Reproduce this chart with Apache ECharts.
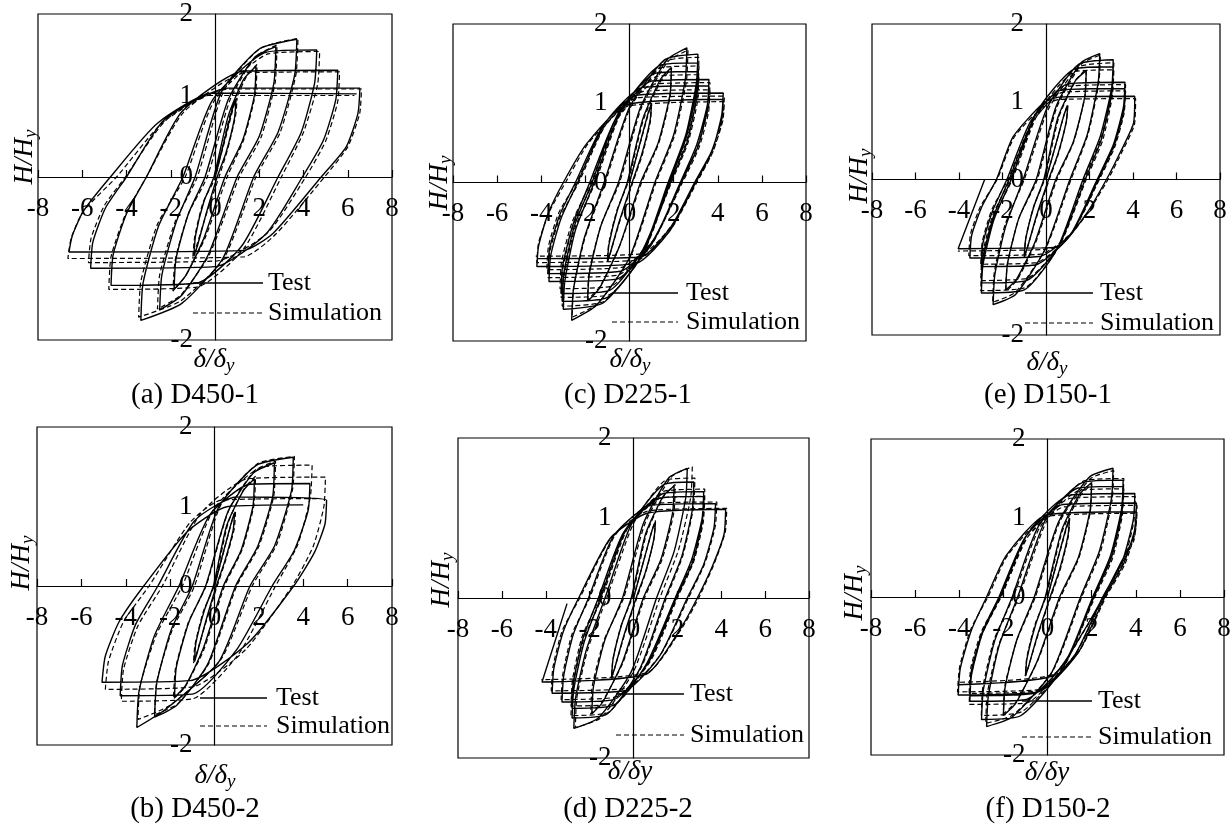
<!DOCTYPE html>
<html>
<head>
<meta charset="utf-8">
<script src="https://cdn.jsdelivr.net/npm/echarts@6.0.0/dist/echarts.min.js"></script>
<style>
html, body { margin: 0; padding: 0; background: #fff; }
#main { width: 1232px; height: 831px; }
</style>
</head>
<body>
<div id="main"></div>
<script>
// axis ranges (normalised displacement / force)
var xRange = [-8, 8], xStep = 2;
var yRange = [-2, 2], yStep = 1;

var captions = ['(a) D450-1', '(c) D225-1', '(e) D150-1', '(b) D450-2', '(d) D225-2', '(f) D150-2'];
var legendNames = ['Test', 'Simulation'];

// hysteresis paths, flat lists x0,y0,x1,y1,...
// one line per half cycle (loading branch / unloading branch)
var testA = [
  0,0, 0.5,0.53, 0.8,0.85, 0.95,0.95,
  0.88,0.72, 0.5,0.3, 0.1,0, -0.4,-0.45, -0.8,-0.85, -0.95,-0.97,
  -0.88,-0.72, -0.5,-0.3, -0.05,0, 0.6,0.75, 1.3,1.2, 1.85,1.36,
  1.78,1.0, 1.25,0.45, 0.45,0, -0.5,-0.75, -1.3,-1.2, -1.85,-1.38,
  -1.76,-1.0, -1.2,-0.45, -0.45,0, 0.6,0.95, 1.8,1.47, 2.75,1.6,
  2.66,1.15, 2.0,0.5, 1.0,0, -0.3,-0.95, -1.5,-1.45, -2.5,-1.63,
  -2.4,-1.2, -1.75,-0.55, -0.9,0, 0.3,1.05, 2.0,1.57, 3.7,1.69,
  3.6,1.25, 2.85,0.55, 1.75,0, 0.35,-1.0, -1.5,-1.55, -3.35,-1.76,
  -3.25,-1.3, -2.55,-0.6, -1.45,0, -0.1,0.95, 2.3,1.53, 4.6,1.56,
  4.5,1.15, 3.9,0.55, 2.85,0, 1.2,-0.85, -0.8,-1.3, -4.7,-1.33,
  -4.6,-0.95, -4.0,-0.45, -3.1,0, -1.5,0.8, 1.3,1.3, 5.55,1.31,
  5.46,0.95, 4.9,0.45, 3.95,0, 2.3,-0.7, 0.0,-1.1, -5.62,-1.12,
  -5.52,-0.8, -4.95,-0.38, -4.0,0, -2.3,0.7, 0.6,1.09, 6.55,1.09,
  6.46,0.78, 5.93,0.37, 4.8,0, 2.63,-0.69, 1.3,-0.9, -6.6,-0.92,
  -6.45,-0.72, -5.95,-0.42, -4.73,0, -2.6,0.66, -0.1,1.03, 6.4,1.02
];
var simA = [
  0,0, 0.5,0.5, 0.85,0.87, 1.0,0.97,
  0.93,0.75, 0.55,0.32, 0.18,0, -0.35,-0.42, -0.85,-0.86, -1.0,-0.98,
  -0.92,-0.74, -0.55,-0.32, 0.02,0, 0.7,0.78, 1.4,1.22, 1.9,1.38,
  1.83,1.02, 1.3,0.46, 0.55,0, -0.45,-0.75, -1.35,-1.22, -1.9,-1.4,
  -1.8,-1.02, -1.2,-0.45, -0.35,0, 0.7,0.96, 1.85,1.48, 2.8,1.62,
  2.72,1.16, 2.1,0.5, 1.1,0, -0.25,-0.95, -1.55,-1.45, -2.6,-1.62,
  -2.5,-1.2, -1.8,-0.55, -0.8,0, 0.4,1.06, 2.05,1.58, 3.75,1.7,
  3.66,1.26, 2.95,0.55, 1.85,0, 0.4,-1.0, -1.55,-1.52, -3.45,-1.72,
  -3.35,-1.28, -2.6,-0.58, -1.35,0, 0.0,0.95, 2.4,1.51, 4.73,1.54,
  4.64,1.14, 4.0,0.55, 3.0,0, 1.3,-0.88, -0.8,-1.35, -4.8,-1.38,
  -4.7,-0.98, -4.05,-0.46, -3.1,0, -1.4,0.8, 1.4,1.28, 5.63,1.29,
  5.55,0.93, 5.0,0.44, 4.1,0, 2.4,-0.68, 0.1,-1.03, -5.72,-1.05,
  -5.6,-0.75, -5.0,-0.35, -4.05,0, -2.2,0.7, 0.6,1.08, 6.62,1.08,
  6.54,0.78, 6.0,0.37, 4.95,0, 2.75,-0.7, 1.3,-0.98, -6.65,-1.0,
  -6.5,-0.75, -5.95,-0.42, -4.45,0, -2.4,0.66, -0.3,1.0, 6.3,1.0
];
var testB = [
  0,0, 0.45,0.48, 0.78,0.82, 0.9,0.92,
  0.84,0.7, 0.45,0.3, 0.08,0, -0.4,-0.45, -0.78,-0.84, -0.9,-0.95,
  -0.84,-0.72, -0.45,-0.3, -0.05,0, 0.55,0.76, 1.3,1.2, 1.8,1.35,
  1.73,1.0, 1.2,0.45, 0.4,0, -0.5,-0.78, -1.3,-1.25, -1.8,-1.4,
  -1.72,-1.02, -1.15,-0.45, -0.4,0, 0.6,0.93, 1.75,1.42, 2.7,1.55,
  2.62,1.12, 1.95,0.5, 0.95,0, -0.3,-0.98, -1.7,-1.5, -2.7,-1.65,
  -2.6,-1.22, -1.95,-0.55, -1.0,0, 0.2,1.0, 1.9,1.52, 3.55,1.62,
  3.47,1.2, 2.7,0.5, 1.6,0, 0.2,-0.95, -2.2,-1.55, -3.5,-1.78,
  -3.4,-1.32, -2.7,-0.62, -1.6,0, -0.2,0.9, 1.6,1.28, 4.3,1.29,
  4.22,0.95, 3.6,0.45, 2.6,0, 1.0,-0.8, -1.0,-1.36, -4.25,-1.38,
  -4.15,-1.0, -3.55,-0.48, -2.55,0, -0.9,0.82, 1.0,1.12, 5.05,1.08,
  4.98,0.78, 4.5,0.42, 3.57,0, 1.5,-0.72, -1.1,-1.19, -5.07,-1.21,
  -4.92,-0.88, -4.3,-0.45, -3.19,0, -1.24,0.68, 0.6,1.0, 4.0,1.02
];
var simB = [
  0,0, 0.48,0.5, 0.82,0.85, 0.95,0.95,
  0.89,0.72, 0.5,0.32, 0.12,0, -0.38,-0.45, -0.82,-0.86, -0.95,-0.97,
  -0.88,-0.74, -0.5,-0.32, -0.02,0, 0.62,0.8, 1.35,1.23, 1.85,1.38,
  1.78,1.02, 1.25,0.46, 0.45,0, -0.48,-0.8, -1.33,-1.27, -1.85,-1.42,
  -1.76,-1.04, -1.18,-0.46, -0.38,0, 0.65,0.96, 1.8,1.45, 2.75,1.57,
  2.67,1.13, 2.0,0.5, 1.0,0, -0.25,-0.97, -1.65,-1.48, -2.7,-1.62,
  -2.6,-1.2, -1.9,-0.55, -0.9,0, 0.3,1.03, 1.95,1.54, 3.6,1.63,
  3.52,1.22, 2.8,0.52, 1.7,0, 0.3,-0.92, -2.0,-1.5, -3.45,-1.68,
  -3.35,-1.25, -2.6,-0.6, -1.45,0, 0.0,0.98, 2.2,1.5, 4.4,1.52,
  4.32,1.12, 3.75,0.52, 2.75,0, 1.1,-0.85, -1.0,-1.42, -4.2,-1.45,
  -4.1,-1.05, -3.45,-0.5, -2.35,0, -0.6,0.92, 1.5,1.35, 5.0,1.37,
  4.93,1.0, 4.45,0.5, 3.5,0, 1.4,-0.8, -1.0,-1.27, -4.92,-1.3,
  -4.78,-0.95, -4.1,-0.45, -2.95,0, -1.1,0.8, 0.3,1.08, 4.77,1.1
];
var testC = [
  0,0, 0.5,0.52, 0.85,0.88, 1.0,1.0,
  0.93,0.78, 0.55,0.35, 0.12,0, -0.45,-0.48, -0.85,-0.87, -1.0,-1.0,
  -0.93,-0.78, -0.55,-0.35, -0.1,0, 0.6,0.8, 1.4,1.3, 1.9,1.45,
  1.83,1.1, 1.3,0.5, 0.5,0, -0.45,-0.8, -1.35,-1.33, -1.9,-1.5,
  -1.82,-1.15, -1.3,-0.55, -0.5,0, 0.5,0.95, 1.7,1.55, 2.6,1.7,
  2.53,1.3, 2.0,0.6, 1.15,0, 0.0,-0.95, -1.5,-1.55, -2.62,-1.74,
  -2.54,-1.35, -2.05,-0.7, -1.15,0, 0.0,0.95, 1.6,1.55, 3.1,1.62,
  3.03,1.25, 2.55,0.6, 1.75,0, 0.5,-0.95, -1.2,-1.52, -3.0,-1.6,
  -2.93,-1.24, -2.45,-0.6, -1.6,0, -0.4,0.9, 1.4,1.48, 3.1,1.51,
  3.03,1.15, 2.55,0.55, 1.8,0, 0.6,-0.9, -1.0,-1.45, -3.05,-1.5,
  -2.98,-1.15, -2.5,-0.55, -1.7,0, -0.5,0.88, 1.2,1.38, 3.1,1.4,
  3.03,1.05, 2.6,0.5, 1.85,0, 0.6,-0.85, -0.9,-1.36, -3.1,-1.4,
  -3.03,-1.05, -2.55,-0.52, -1.8,0, -0.6,0.82, 1.0,1.28, 3.6,1.3,
  3.53,0.98, 3.05,0.48, 2.3,0, 1.0,-0.78, -0.6,-1.22, -3.65,-1.25,
  -3.57,-0.92, -3.1,-0.45, -2.35,0, -1.1,0.75, 0.6,1.2, 3.6,1.22,
  3.53,0.92, 3.1,0.45, 2.35,0, 1.05,-0.74, -0.4,-1.12, -3.7,-1.15,
  -3.62,-0.83, -3.15,-0.4, -2.45,0, -1.2,0.72, 0.3,1.1, 4.25,1.13,
  4.18,0.85, 3.75,0.4, 3.0,0, 1.8,-0.62, 0.3,-1.02, -4.2,-1.06,
  -4.12,-0.8, -3.7,-0.4, -3.0,0, -1.94,0.49, -0.15,0.98, 4.25,1.05,
  4.18,0.8, 3.7,0.38, 2.95,0, 1.9,-0.55, 0.5,-0.94, -4.21,-0.96
];
var simC = [
  0,0, 0.5,0.51, 0.86,0.87, 1.0,0.98,
  0.94,0.76, 0.58,0.35, 0.15,0, -0.42,-0.47, -0.85,-0.87, -1.0,-1.0,
  -0.94,-0.77, -0.57,-0.35, -0.07,0, 0.64,0.8, 1.42,1.28, 1.9,1.43,
  1.84,1.08, 1.33,0.5, 0.55,0, -0.42,-0.78, -1.33,-1.31, -1.9,-1.48,
  -1.83,-1.13, -1.28,-0.53, -0.45,0, 0.55,0.95, 1.75,1.53, 2.65,1.67,
  2.58,1.28, 2.05,0.6, 1.2,0, 0.05,-0.93, -1.45,-1.53, -2.6,-1.7,
  -2.53,-1.32, -2.0,-0.68, -1.1,0, 0.05,0.95, 1.65,1.53, 3.15,1.58,
  3.08,1.22, 2.6,0.6, 1.8,0, 0.55,-0.93, -1.15,-1.5, -3.05,-1.56,
  -2.98,-1.2, -2.48,-0.58, -1.55,0, -0.35,0.9, 1.45,1.45, 3.15,1.47,
  3.08,1.12, 2.6,0.54, 1.85,0, 0.65,-0.88, -0.95,-1.42, -3.1,-1.45,
  -3.03,-1.1, -2.55,-0.54, -1.65,0, -0.45,0.86, 1.25,1.34, 3.15,1.36,
  3.08,1.02, 2.65,0.5, 1.9,0, 0.65,-0.83, -0.85,-1.31, -3.15,-1.34,
  -3.08,-1.0, -2.6,-0.5, -1.75,0, -0.55,0.8, 1.05,1.24, 3.65,1.26,
  3.58,0.95, 3.1,0.47, 2.35,0, 1.05,-0.76, -0.55,-1.17, -3.7,-1.2,
  -3.62,-0.88, -3.15,-0.44, -2.3,0, -1.05,0.74, 0.65,1.15, 3.65,1.17,
  3.58,0.88, 3.15,0.44, 2.4,0, 1.1,-0.72, -0.35,-1.07, -3.75,-1.1,
  -3.67,-0.8, -3.2,-0.38, -2.4,0, -1.15,0.7, 0.35,1.07, 4.3,1.09,
  4.23,0.82, 3.8,0.4, 3.05,0, 1.85,-0.6, 0.35,-0.98, -4.2,-1.01,
  -4.12,-0.76, -3.65,-0.38, -2.9,0, -1.85,0.5, -0.1,0.96, 4.3,1.02,
  4.23,0.78, 3.75,0.37, 3.0,0, 1.95,-0.53, 0.55,-0.9, -4.25,-0.93
];
var testD = [
  0,0, 0.5,0.5, 0.85,0.85, 1.0,0.95,
  0.93,0.74, 0.55,0.33, 0.12,0, -0.45,-0.48, -0.85,-0.87, -1.0,-1.0,
  -0.93,-0.76, -0.55,-0.34, -0.1,0, 0.55,0.8, 1.35,1.27, 1.85,1.4,
  1.78,1.06, 1.25,0.48, 0.45,0, -0.5,-0.8, -1.4,-1.3, -1.9,-1.45,
  -1.82,-1.1, -1.3,-0.52, -0.5,0, 0.45,0.93, 1.6,1.5, 2.45,1.62,
  2.38,1.25, 1.85,0.58, 1.05,0, -0.1,-0.92, -1.6,-1.5, -2.72,-1.63,
  -2.64,-1.25, -2.15,-0.65, -1.3,0, -0.1,0.92, 1.4,1.42, 2.75,1.45,
  2.68,1.1, 2.2,0.52, 1.45,0, 0.3,-0.88, -1.2,-1.45, -2.8,-1.5,
  -2.72,-1.14, -2.25,-0.55, -1.5,0, -0.3,0.88, 1.4,1.31, 3.2,1.33,
  3.13,1.0, 2.65,0.48, 1.9,0, 0.6,-0.82, -0.9,-1.34, -2.8,-1.38,
  -2.73,-1.04, -2.3,-0.5, -1.6,0, -0.45,0.82, 1.2,1.25, 3.2,1.27,
  3.13,0.95, 2.7,0.45, 1.95,0, 0.7,-0.8, -0.9,-1.27, -3.26,-1.3,
  -3.18,-0.97, -2.75,-0.46, -2.05,0, -0.9,0.78, 0.8,1.16, 3.74,1.18,
  3.67,0.88, 3.2,0.42, 2.45,0, 1.2,-0.72, -0.4,-1.16, -3.71,-1.19,
  -3.63,-0.88, -3.2,-0.42, -2.5,0, -1.05,0.75, 0.62,1.06, 4.2,1.11,
  4.13,0.8, 3.6,0.4, 2.91,0, 2.15,-0.38, 0.6,-0.95, -4.17,-1.05,
  -3.03,-0.07
];
var simD = [
  0,0, 0.5,0.5, 0.86,0.86, 1.0,0.97,
  0.94,0.75, 0.58,0.34, 0.15,0, -0.42,-0.47, -0.85,-0.87, -1.0,-1.0,
  -0.94,-0.77, -0.57,-0.35, -0.07,0, 0.6,0.81, 1.4,1.28, 1.9,1.42,
  1.84,1.07, 1.3,0.48, 0.5,0, -0.47,-0.8, -1.43,-1.3, -1.95,-1.45,
  -1.88,-1.1, -1.33,-0.52, -0.45,0, 0.55,0.95, 1.75,1.52, 2.68,1.64,
  2.61,1.26, 2.05,0.6, 1.2,0, 0.0,-0.92, -1.5,-1.5, -2.65,-1.62,
  -2.58,-1.24, -2.08,-0.64, -1.22,0, 0.0,0.93, 1.45,1.47, 2.8,1.5,
  2.73,1.13, 2.25,0.53, 1.5,0, 0.35,-0.87, -1.15,-1.43, -2.85,-1.47,
  -2.78,-1.12, -2.3,-0.54, -1.45,0, -0.25,0.88, 1.45,1.34, 3.25,1.36,
  3.18,1.02, 2.7,0.49, 1.95,0, 0.65,-0.82, -0.85,-1.32, -2.85,-1.35,
  -2.78,-1.02, -2.35,-0.49, -1.55,0, -0.4,0.82, 1.25,1.25, 3.25,1.27,
  3.18,0.95, 2.75,0.46, 2.0,0, 0.75,-0.8, -0.85,-1.24, -3.3,-1.27,
  -3.22,-0.95, -2.8,-0.45, -2.0,0, -0.85,0.78, 0.85,1.18, 3.8,1.2,
  3.73,0.9, 3.25,0.43, 2.5,0, 1.25,-0.7, -0.35,-1.13, -3.75,-1.16,
  -3.67,-0.86, -3.25,-0.41, -2.45,0, -1.0,0.76, 0.7,1.09, 4.25,1.12,
  4.18,0.82, 3.65,0.41, 2.97,0, 2.2,-0.38, 0.65,-0.93, -4.2,-1.02
];
var testE = [
  0,0, 0.5,0.5, 0.85,0.85, 1.0,0.95,
  0.93,0.74, 0.55,0.33, 0.12,0, -0.45,-0.48, -0.85,-0.87, -1.0,-1.0,
  -0.93,-0.76, -0.55,-0.34, -0.1,0, 0.55,0.8, 1.35,1.27, 1.85,1.4,
  1.78,1.06, 1.25,0.48, 0.45,0, -0.5,-0.8, -1.35,-1.28, -1.85,-1.42,
  -1.77,-1.08, -1.25,-0.5, -0.45,0, 0.45,0.93, 1.6,1.5, 2.47,1.62,
  2.4,1.25, 1.9,0.58, 1.1,0, -0.05,-0.9, -1.4,-1.48, -2.43,-1.61,
  -2.35,-1.22, -1.85,-0.6, -1.05,0, 0.05,0.92, 1.5,1.48, 3.09,1.54,
  3.02,1.18, 2.5,0.56, 1.7,0, 0.5,-0.9, -1.0,-1.42, -2.97,-1.46,
  -2.9,-1.1, -2.4,-0.52, -1.6,0, -0.4,0.88, 1.3,1.42, 3.09,1.45,
  3.02,1.1, 2.55,0.52, 1.8,0, 0.6,-0.85, -0.9,-1.3, -2.97,-1.33,
  -2.9,-1.0, -2.42,-0.48, -1.7,0, -0.5,0.82, 1.0,1.23, 3.63,1.25,
  3.56,0.93, 3.1,0.45, 2.35,0, 1.1,-0.72, -0.5,-1.1, -2.97,-1.12,
  -2.9,-0.82, -2.45,-0.4, -1.8,0, -0.7,0.75, 0.7,1.15, 3.63,1.17,
  3.56,0.87, 3.1,0.42, 2.4,0, 1.2,-0.68, -0.3,-0.99, -3.5,-1.01,
  -3.42,-0.72, -2.95,-0.35, -2.28,0, -1.51,0.55, -0.13,0.98, 0.6,1.06, 4.08,1.07,
  4.02,0.72, 3.4,0.34, 2.78,0, 1.86,-0.44, 0.63,-0.86, -0.2,-0.88, -4.04,-0.89,
  -2.82,0
];
var simE = [
  0,0, 0.5,0.5, 0.86,0.86, 1.0,0.97,
  0.94,0.75, 0.58,0.34, 0.15,0, -0.42,-0.47, -0.85,-0.87, -1.0,-1.0,
  -0.94,-0.77, -0.57,-0.35, -0.07,0, 0.6,0.81, 1.38,1.28, 1.85,1.42,
  1.79,1.07, 1.28,0.49, 0.5,0, -0.46,-0.8, -1.32,-1.29, -1.85,-1.44,
  -1.78,-1.1, -1.25,-0.5, -0.4,0, 0.5,0.93, 1.65,1.49, 2.5,1.6,
  2.43,1.24, 1.93,0.58, 1.15,0, 0.0,-0.88, -1.4,-1.45, -2.45,-1.58,
  -2.38,-1.2, -1.88,-0.58, -1.0,0, 0.1,0.9, 1.55,1.45, 3.12,1.5,
  3.05,1.15, 2.55,0.55, 1.75,0, 0.55,-0.88, -0.95,-1.39, -3.0,-1.43,
  -2.93,-1.08, -2.42,-0.5, -1.55,0, -0.35,0.86, 1.35,1.39, 3.12,1.41,
  3.05,1.07, 2.6,0.5, 1.85,0, 0.65,-0.83, -0.85,-1.27, -3.0,-1.3,
  -2.93,-0.97, -2.45,-0.46, -1.65,0, -0.45,0.8, 1.05,1.2, 3.66,1.22,
  3.59,0.9, 3.15,0.44, 2.4,0, 1.15,-0.7, -0.45,-1.07, -3.0,-1.09,
  -2.93,-0.8, -2.48,-0.38, -1.75,0, -0.65,0.73, 0.75,1.12, 3.66,1.14,
  3.59,0.85, 3.15,0.41, 2.45,0, 1.25,-0.66, -0.25,-0.96, -3.55,-0.98,
  -3.47,-0.7, -3.0,-0.34, -2.25,0, -1.45,0.55, -0.05,0.96, 0.65,1.03, 4.12,1.04,
  4.06,0.7, 3.45,0.33, 2.85,0, 1.92,-0.43, 0.7,-0.84, -0.15,-0.9, -4.05,-0.92
];
var testF = [
  0,0, 0.5,0.52, 0.85,0.88, 1.0,1.0,
  0.93,0.78, 0.55,0.35, 0.12,0, -0.45,-0.48, -0.85,-0.87, -1.0,-1.0,
  -0.93,-0.78, -0.55,-0.36, -0.1,0, 0.65,0.85, 1.45,1.3, 2.0,1.45,
  1.93,1.1, 1.4,0.5, 0.55,0, -0.45,-0.8, -1.45,-1.35, -2.0,-1.5,
  -1.92,-1.14, -1.4,-0.55, -0.6,0, 0.5,0.95, 1.9,1.52, 2.97,1.63,
  2.9,1.25, 2.35,0.58, 1.5,0, 0.2,-0.95, -1.6,-1.52, -2.76,-1.64,
  -2.68,-1.25, -2.2,-0.62, -1.35,0, -0.05,1.0, 1.6,1.45, 3.43,1.48,
  3.36,1.12, 2.85,0.52, 2.05,0, 0.7,-0.9, -1.2,-1.5, -2.99,-1.55,
  -2.91,-1.18, -2.4,-0.56, -1.6,0, -0.4,0.9, 1.4,1.38, 3.43,1.4,
  3.36,1.05, 2.9,0.5, 2.1,0, 0.8,-0.82, -1.0,-1.3, -3.52,-1.32,
  -3.44,-0.98, -2.95,-0.46, -2.15,0, -0.9,0.8, 1.0,1.29, 3.96,1.31,
  3.89,0.98, 3.4,0.46, 2.5,0, 1.2,-0.75, -0.6,-1.22, -3.52,-1.25,
  -3.44,-0.92, -2.95,-0.44, -2.2,0, -1.0,0.76, 0.7,1.17, 4.03,1.19,
  3.96,0.86, 3.45,0.42, 2.6,0, 1.4,-0.7, -0.4,-1.2, -4.05,-1.24,
  -3.95,-0.9, -3.45,-0.42, -2.76,0, -1.86,0.53, -0.05,1.04, 4.03,1.08,
  3.88,0.74, 3.28,0.41, 2.52,0, 1.62,-0.44, 0.2,-1.0, -4.05,-1.11
];
var simF = [
  0,0, 0.5,0.51, 0.86,0.87, 1.0,0.98,
  0.94,0.76, 0.58,0.35, 0.15,0, -0.42,-0.47, -0.85,-0.87, -1.0,-1.0,
  -0.94,-0.77, -0.57,-0.35, -0.07,0, 0.68,0.84, 1.48,1.28, 2.0,1.43,
  1.94,1.08, 1.43,0.5, 0.6,0, -0.42,-0.79, -1.43,-1.33, -2.0,-1.48,
  -1.93,-1.12, -1.38,-0.54, -0.55,0, 0.55,0.95, 1.95,1.5, 3.0,1.6,
  2.93,1.23, 2.4,0.57, 1.55,0, 0.25,-0.93, -1.55,-1.49, -2.8,-1.6,
  -2.73,-1.22, -2.2,-0.6, -1.3,0, 0.0,0.98, 1.65,1.47, 3.46,1.5,
  3.39,1.14, 2.9,0.53, 2.1,0, 0.75,-0.88, -1.15,-1.45, -3.0,-1.5,
  -2.93,-1.14, -2.42,-0.54, -1.55,0, -0.35,0.88, 1.45,1.35, 3.46,1.37,
  3.39,1.03, 2.95,0.49, 2.15,0, 0.85,-0.82, -0.95,-1.34, -3.55,-1.36,
  -3.48,-1.02, -2.98,-0.48, -2.1,0, -0.85,0.78, 1.05,1.25, 3.98,1.27,
  3.91,0.95, 3.45,0.45, 2.55,0, 1.25,-0.73, -0.55,-1.19, -3.55,-1.22,
  -3.48,-0.9, -2.98,-0.43, -2.15,0, -0.95,0.74, 0.75,1.14, 4.06,1.16,
  3.99,0.84, 3.5,0.41, 2.65,0, 1.45,-0.68, -0.35,-1.17, -4.08,-1.2,
  -3.98,-0.88, -3.48,-0.41, -2.7,0, -1.8,0.53, 0.0,1.02, 4.06,1.06,
  3.92,0.72, 3.32,0.4, 2.57,0, 1.66,-0.43, 0.25,-0.98, -4.08,-1.08
];

// panel order: top row a, c, e; bottom row b, d, f
var testSets = [testA, testC, testE, testB, testD, testF];
var simSets = [simA, simC, simE, simB, simD, simF];

// layout (pixels)
var boxes = [[38,14,354,326],[453,24,353,317],[872,24,348,311],[37,427,355,318],[458,438,351,320],[871,439,353,316]];
var hPos = [[25,157],[440,183],[860,176],[22,563],[442,580],[855,593]];
var dPos = [[214,360],[630,360],[1047,363],[215,776],[630,772],[1047,773]];
var dSub = [true, true, true, true, false, false];
var capPos = [[195,395],[628,395],[1048,395],[195,809],[628,809],[1048,809]];
var legPos = [
  {x1:193, x2:263, yT:283, yS:313, tx:268},
  {x1:612, x2:678, yT:293, yS:322, tx:686},
  {x1:1025, x2:1093, yT:293, yS:323, tx:1100},
  {x1:200, x2:267, yT:698, yS:726, tx:276},
  {x1:616, x2:684, yT:694, yS:735, tx:690},
  {x1:1022, x2:1092, yT:701, yS:737, tx:1098}
];

var FONT = '"Liberation Serif", "Times New Roman", serif';

function pairs(a) {
  var out = [];
  for (var i = 0; i < a.length; i += 2) out.push([a[i], a[i + 1]]);
  return out;
}

var grids = [], xAxes = [], yAxes = [], series = [], graphics = [];

boxes.forEach(function (b, i) {
  grids.push({
    left: b[0], top: b[1], width: b[2], height: b[3],
    show: true, borderColor: '#000', borderWidth: 1.2, backgroundColor: 'transparent',
    containLabel: false, outerBoundsMode: 'none'
  });
  // axes sit on the zero lines (middle of the box), labels travel with them
  xAxes.push({
    gridIndex: i, type: 'value', min: xRange[0], max: xRange[1], interval: xStep,
    position: 'bottom', offset: -b[3] / 2,
    axisLine: { onZero: false, lineStyle: { color: '#000', width: 1.2 } },
    axisTick: { show: true, inside: true, length: 7, lineStyle: { color: '#000', width: 1.2 } },
    axisLabel: { color: '#000', fontFamily: FONT, fontSize: 27, margin: 18 },
    splitLine: { show: false }
  });
  yAxes.push({
    gridIndex: i, type: 'value', min: yRange[0], max: yRange[1], interval: yStep,
    position: 'left', offset: -b[2] / 2,
    axisLine: { onZero: false, lineStyle: { color: '#000', width: 1.2 } },
    axisTick: { show: false },
    axisLabel: {
      color: '#000', fontFamily: FONT, fontSize: 27, margin: 22,
      formatter: function (v) { return v === -1 ? '' : String(v); }
    },
    splitLine: { show: false }
  });
  series.push({
    name: legendNames[0], type: 'line', xAxisIndex: i, yAxisIndex: i,
    data: pairs(testSets[i]), symbol: 'none', smooth: 0.2, z: 4,
    lineStyle: { color: '#000', width: 1.4 }, animation: false, silent: true
  });
  series.push({
    name: legendNames[1], type: 'line', xAxisIndex: i, yAxisIndex: i,
    data: pairs(simSets[i]), symbol: 'none', smooth: 0.2, z: 3,
    lineStyle: { color: '#000', width: 1.2, type: [5, 3] }, animation: false, silent: true
  });

  // axis titles
  graphics.push({
    type: 'text', x: hPos[i][0], y: hPos[i][1], rotation: Math.PI / 2,
    style: {
      text: '{i|H/H}{s|y}', textAlign: 'center', textVerticalAlign: 'middle', verticalAlign: 'middle',
      fill: '#000',
      rich: {
        i: { fontFamily: FONT, fontStyle: 'italic', fontSize: 27, lineHeight: 30, verticalAlign: 'middle' },
        s: { fontFamily: FONT, fontStyle: 'italic', fontSize: 19, lineHeight: 14, verticalAlign: 'bottom' }
      }
    }
  });
  graphics.push({
    type: 'text', x: dPos[i][0], y: dPos[i][1],
    style: {
      text: dSub[i] ? '{i|δ/δ}{s|y}' : '{i|δ/δy}', textAlign: 'center', textVerticalAlign: 'middle', verticalAlign: 'middle',
      fill: '#000',
      rich: {
        i: { fontFamily: FONT, fontStyle: 'italic', fontSize: 27, lineHeight: 30, verticalAlign: 'middle' },
        s: { fontFamily: FONT, fontStyle: 'italic', fontSize: 19, lineHeight: 14, verticalAlign: 'bottom' }
      }
    }
  });
  // caption
  graphics.push({
    type: 'text', x: capPos[i][0], y: capPos[i][1],
    style: { text: captions[i], fontFamily: FONT, fontSize: 29, fill: '#000', textAlign: 'center', textVerticalAlign: 'middle', verticalAlign: 'middle' }
  });
  // legend
  var L = legPos[i];
  graphics.push({ type: 'line', shape: { x1: L.x1, y1: L.yT, x2: L.x2, y2: L.yT }, style: { stroke: '#000', lineWidth: 1.4 }, z: 10 });
  graphics.push({ type: 'line', shape: { x1: L.x1, y1: L.yS, x2: L.x2, y2: L.yS }, style: { stroke: '#000', lineWidth: 1.2, lineDash: [5, 3] }, z: 10 });
  graphics.push({ type: 'text', x: L.tx, y: L.yT, z: 10, style: { text: legendNames[0], fontFamily: FONT, fontSize: 26, fill: '#000', textAlign: 'left', textVerticalAlign: 'middle', verticalAlign: 'middle' } });
  graphics.push({ type: 'text', x: L.tx, y: L.yS, z: 10, style: { text: legendNames[1], fontFamily: FONT, fontSize: 26, fill: '#000', textAlign: 'left', textVerticalAlign: 'middle', verticalAlign: 'middle' } });
});

var chart = echarts.init(document.getElementById('main'), null, { renderer: 'canvas' });
chart.setOption({
  backgroundColor: '#fff',
  animation: false,
  grid: grids,
  xAxis: xAxes,
  yAxis: yAxes,
  series: series,
  graphic: { elements: graphics }
});
</script>
</body>
</html>
